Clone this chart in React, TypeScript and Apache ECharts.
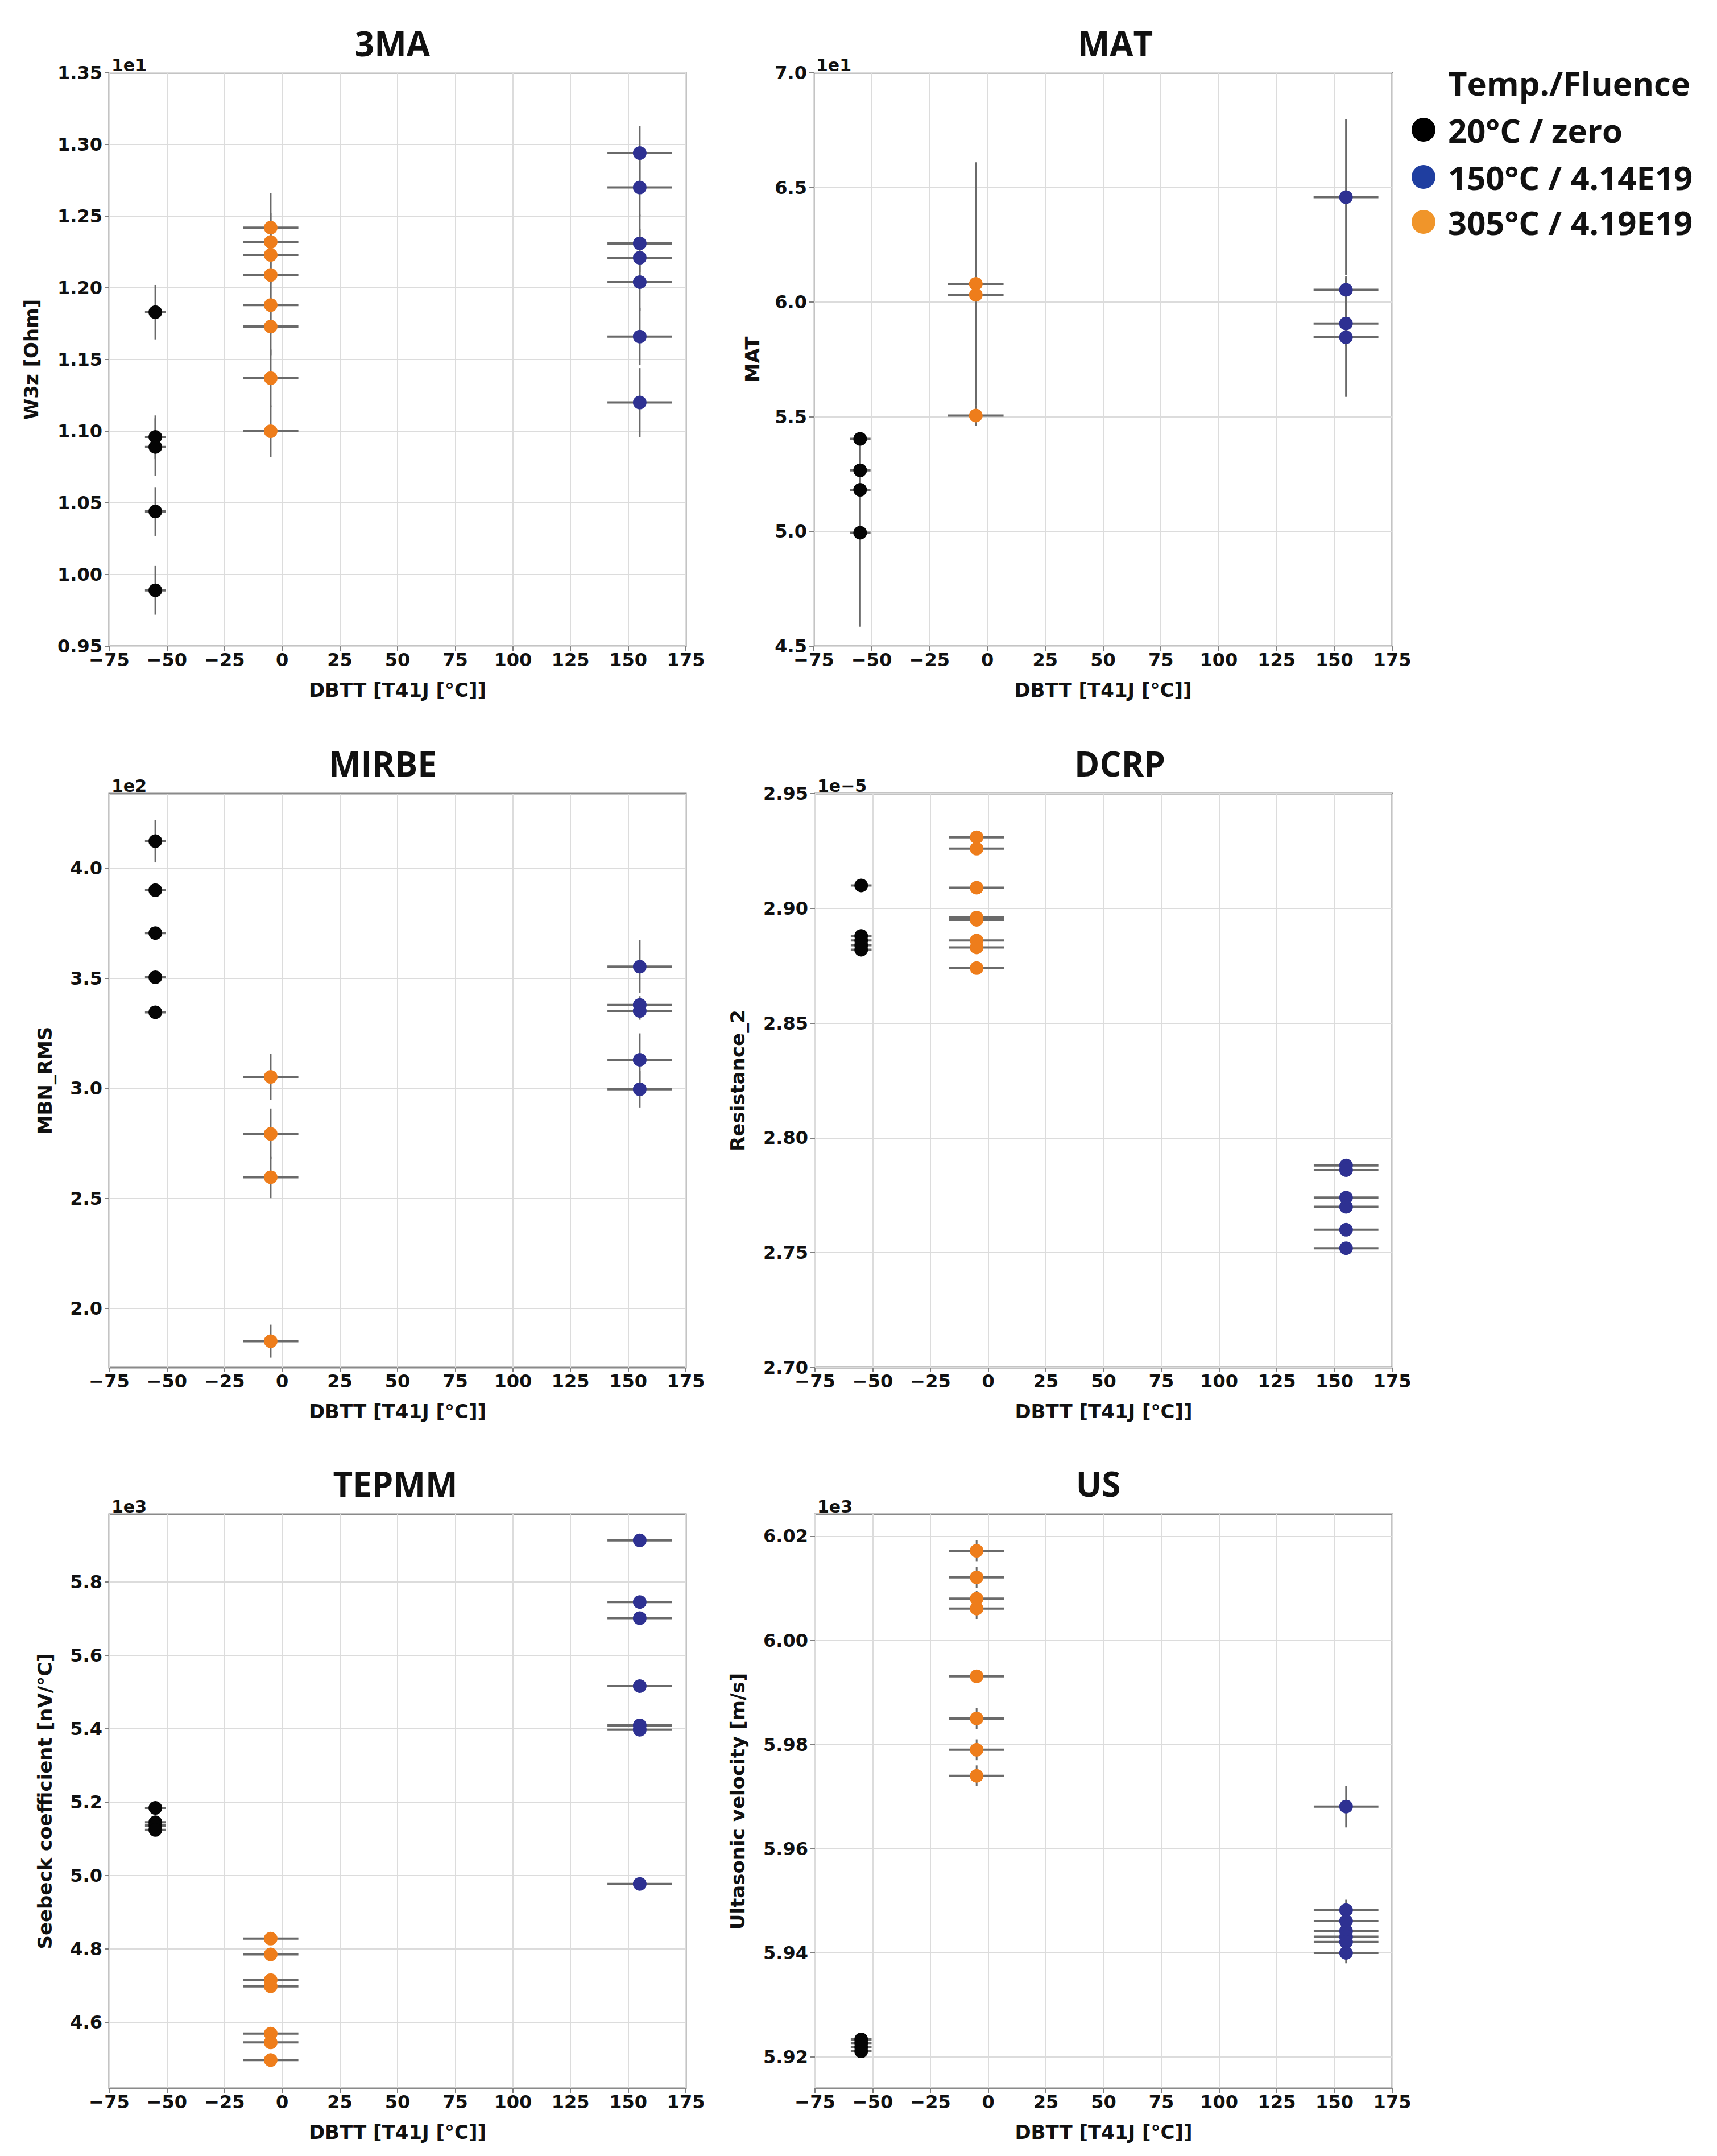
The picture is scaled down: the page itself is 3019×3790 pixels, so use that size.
import React, { useEffect, useRef } from 'react';
import * as echarts from 'echarts';

// groups (legend order): 20°C / zero, 150°C / 4.14E19, 305°C / 4.19E19
const groupNames = ['20°C / zero', '150°C / 4.14E19', '305°C / 4.19E19'];
const groupDbtt = [-55, 155, -5];
const groupDbttErr = [4.5, 14, 12];
const groupColors = ['#050505', '#2e3192', '#ee7d1b'];
const legendColors = ['#000000', '#1f3ea0', '#f0952a'];

const xTicks = [-75, 175, 25]; // min, max, step

// 3MA  (W3z, x1e1 Ohm)
const w3zBlack = [1.183, 1.096, 1.089, 1.044, 0.989];
const w3zBlackErr = [0.019, 0.015, 0.02, 0.017, 0.017];
const w3zBlue = [1.294, 1.27, 1.231, 1.221, 1.204, 1.166, 1.12];
const w3zBlueErr = [0.019, 0.02, 0.02, 0.02, 0.02, 0.02, 0.024];
const w3zOrange = [1.242, 1.232, 1.223, 1.209, 1.188, 1.173, 1.137, 1.1];
const w3zOrangeErr = [0.024, 0.02, 0.02, 0.02, 0.02, 0.02, 0.02, 0.018];

// MAT (x1e1)
const matBlack = [5.404, 5.267, 5.182, 4.995];
const matBlackErr = [0.03, 0.03, 0.03, 0.41];
const matBlue = [6.458, 6.054, 5.907, 5.847];
const matBlueErr = [0.34, 0.06, 0.1, 0.26];
const matOrange = [6.08, 6.032, 5.506];
const matOrangeErr = [0.53, 0.05, 0.045];

// MIRBE (MBN_RMS, x1e2)
const mbnBlack = [4.124, 3.901, 3.706, 3.505, 3.346];
const mbnBlackErr = [0.097, 0.01, 0.01, 0.01, 0.01];
const mbnBlue = [3.553, 3.379, 3.352, 3.13, 2.996];
const mbnBlueErr = [0.12, 0.04, 0.04, 0.12, 0.083];
const mbnOrange = [3.052, 2.793, 2.596, 1.851];
const mbnOrangeErr = [0.104, 0.115, 0.095, 0.075];
const mbnTicks = [2.0, 2.5, 3.0, 3.5, 4.0];

// DCRP (Resistance_2, x1e-5)
const resBlack = [2.91, 2.888, 2.886, 2.884, 2.882];
const resBlackErr = [0.0005, 0.0005, 0.0005, 0.0005, 0.0005];
const resBlue = [2.788, 2.786, 2.774, 2.77, 2.76, 2.752];
const resBlueErr = [0.0005, 0.0005, 0.0005, 0.0005, 0.0005, 0.0005];
const resOrange = [2.931, 2.926, 2.909, 2.896, 2.895, 2.886, 2.883, 2.874];
const resOrangeErr = [0.0005, 0.0005, 0.0005, 0.0005, 0.0005, 0.0005, 0.0005, 0.0005];

// TEPMM (Seebeck coefficient, x1e3 nV/°C)
const seeBlack = [5.184, 5.145, 5.136, 5.124];
const seeBlackErr = [0.004, 0.004, 0.004, 0.004];
const seeBlue = [5.913, 5.745, 5.701, 5.516, 5.409, 5.397, 4.977];
const seeBlueErr = [0.004, 0.004, 0.004, 0.004, 0.004, 0.004, 0.004];
const seeOrange = [4.828, 4.785, 4.715, 4.698, 4.569, 4.545, 4.497];
const seeOrangeErr = [0.004, 0.004, 0.004, 0.004, 0.004, 0.004, 0.004];
const seeTicks = [4.6, 4.8, 5.0, 5.2, 5.4, 5.6, 5.8];

// US (ultrasonic velocity, x1e3 m/s)
const usBlack = [5.9234, 5.9227, 5.9219, 5.9211];
const usBlackErr = [0.001, 0.001, 0.001, 0.001];
const usBlue = [5.9681, 5.9482, 5.9461, 5.9442, 5.9431, 5.9421, 5.94];
const usBlueErr = [0.004, 0.002, 0.002, 0.002, 0.002, 0.002, 0.002];
const usOrange = [6.0172, 6.0121, 6.008, 6.0061, 5.9931, 5.985, 5.979, 5.974];
const usOrangeErr = [0.002, 0.002, 0.0015, 0.002, 0.001, 0.002, 0.002, 0.002];
const usTicks = [5.92, 5.94, 5.96, 5.98, 6.0, 6.02];

type Panel = {
  title: string;
  yName: string;
  offset: string;
  yMin: number;
  yMax: number;
  yInterval?: number;
  yTicks?: number[];
  digits: number;
  nameGap: number;
  box: [number, number, number, number];
  titleX: number;
  titleY: number;
  groups: [number[], number[]][];
};

const panels: Panel[] = [
  {
    title: '3MA', yName: 'W3z [Ohm]', offset: '1e1', yMin: 0.95, yMax: 1.35, yInterval: 0.05, digits: 2,
    nameGap: 120, box: [192, 128, 1014, 1008], titleX: 690, titleY: 76,
    groups: [[w3zBlack, w3zBlackErr], [w3zBlue, w3zBlueErr], [w3zOrange, w3zOrangeErr]],
  },
  {
    title: 'MAT', yName: 'MAT', offset: '1e1', yMin: 4.5, yMax: 7.0, yInterval: 0.5, digits: 1,
    nameGap: 91, box: [1431, 128, 1017, 1008], titleX: 1961, titleY: 76,
    groups: [[matBlack, matBlackErr], [matBlue, matBlueErr], [matOrange, matOrangeErr]],
  },
  {
    title: 'MIRBE', yName: 'MBN_RMS', offset: '1e2', yMin: 1.731, yMax: 4.34, yTicks: mbnTicks, digits: 1,
    nameGap: 96, box: [192, 1395, 1014, 1009], titleX: 673, titleY: 1342,
    groups: [[mbnBlack, mbnBlackErr], [mbnBlue, mbnBlueErr], [mbnOrange, mbnOrangeErr]],
  },
  {
    title: 'DCRP', yName: 'Resistance_2', offset: '1e\u22125', yMin: 2.7, yMax: 2.95, yInterval: 0.05, digits: 2,
    nameGap: 119, box: [1433, 1395, 1015, 1009], titleX: 1969, titleY: 1342,
    groups: [[resBlack, resBlackErr], [resBlue, resBlueErr], [resOrange, resOrangeErr]],
  },
  {
    title: 'TEPMM', yName: 'Seebeck coefficient [nV/°C]', offset: '1e3', yMin: 4.42, yMax: 5.984, yTicks: seeTicks, digits: 1,
    nameGap: 96, box: [192, 2662, 1014, 1009], titleX: 695, titleY: 2608,
    groups: [[seeBlack, seeBlackErr], [seeBlue, seeBlueErr], [seeOrange, seeOrangeErr]],
  },
  {
    title: 'US', yName: 'Ultasonic velocity [m/s]', offset: '1e3', yMin: 5.914, yMax: 6.0242, yTicks: usTicks, digits: 2,
    nameGap: 119, box: [1433, 2662, 1015, 1009], titleX: 1931, titleY: 2608,
    groups: [[usBlack, usBlackErr], [usBlue, usBlueErr], [usOrange, usOrangeErr]],
  },
];

const tickFont = { fontFamily: 'DejaVu Sans', fontWeight: 'bold' as const, fontSize: 32, color: '#111' };
const nameFont = { fontFamily: 'DejaVu Sans', fontWeight: 'bold' as const, fontSize: 34, color: '#111' };
const gridLine = { show: true, lineStyle: { color: '#dcdcdc', width: 2 } };
const tickLine = { show: true, length: 8, lineStyle: { color: '#808080', width: 2 } };

const minus = (v: number, d: number) => (v < 0 ? '\u2212' + Math.abs(v).toFixed(d) : v.toFixed(d));

const errorBars = (params: any, api: any) => {
  const x = api.value(0);
  const y = api.value(1);
  const xe = api.value(2);
  const ye = api.value(3);
  const l = api.coord([x - xe, y]);
  const r = api.coord([x + xe, y]);
  const t = api.coord([x, y + ye]);
  const b = api.coord([x, y - ye]);
  return {
    type: 'group',
    children: [
      { type: 'line', shape: { x1: l[0], y1: l[1], x2: r[0], y2: r[1] }, style: { stroke: '#6a6a6a', lineWidth: 4 } },
      { type: 'line', shape: { x1: t[0], y1: t[1], x2: b[0], y2: b[1] }, style: { stroke: '#6a6a6a', lineWidth: 3 } },
    ],
  };
};

const App: React.FC = () => {
  const chartRef = useRef<HTMLDivElement | null>(null);

  useEffect(() => {
    document.body.style.margin = '0';
    if (!chartRef.current) return;
    const chart = echarts.init(chartRef.current, undefined, { renderer: 'svg' });

    const grid: any[] = [];
    const xAxis: any[] = [];
    const yAxis: any[] = [];
    const series: any[] = [];
    const graphic: any[] = [];

    panels.forEach((p, i) => {
      const [left, top, width, height] = p.box;
      grid.push({ left, top, width, height, show: true, borderColor: '#8a8a8a', borderWidth: 3 });
      xAxis.push({
        gridIndex: i,
        type: 'value',
        min: xTicks[0],
        max: xTicks[1],
        interval: xTicks[2],
        axisLine: { show: false, onZero: false },
        axisTick: tickLine,
        splitLine: gridLine,
        axisLabel: { ...tickFont, margin: 8, formatter: (v: number) => minus(v, 0) },
        name: 'DBTT [T41J [°C]]',
        nameLocation: 'middle',
        nameGap: 60,
        nameTextStyle: nameFont,
      });
      const y: any = {
        gridIndex: i,
        type: 'value',
        min: p.yMin,
        max: p.yMax,
        axisLine: { show: false, onZero: false },
        axisTick: { ...tickLine },
        splitLine: gridLine,
        axisLabel: { ...tickFont, margin: 12, formatter: (v: number) => minus(v, p.digits) },
        name: p.yName,
        nameLocation: 'middle',
        nameGap: p.nameGap,
        nameTextStyle: nameFont,
      };
      if (p.yInterval) {
        y.interval = p.yInterval;
      } else if (p.yTicks) {
        y.axisTick.customValues = p.yTicks;
        y.axisLabel.customValues = p.yTicks;
      }
      yAxis.push(y);

      p.groups.forEach(([vals, errs], g) => {
        const rows = vals.map((v, k) => [groupDbtt[g], v, groupDbttErr[g], errs[k]]);
        series.push({
          type: 'custom',
          name: groupNames[g],
          xAxisIndex: i,
          yAxisIndex: i,
          renderItem: errorBars,
          encode: { x: 0, y: 1 },
          data: rows,
          z: 2,
        });
      });
      p.groups.forEach(([vals], g) => {
        series.push({
          type: 'scatter',
          name: groupNames[g],
          xAxisIndex: i,
          yAxisIndex: i,
          symbolSize: 24,
          itemStyle: { color: groupColors[g], opacity: 1 },
          data: vals.map((v) => [groupDbtt[g], v]),
          z: 3,
        });
      });

      graphic.push({
        type: 'text',
        x: p.titleX,
        y: p.titleY,
        style: { text: p.title, fontFamily: 'Open Sans', fontWeight: 'bold', fontSize: 60, fill: '#111', align: 'center', verticalAlign: 'middle' },
      });
      graphic.push({
        type: 'text',
        x: left + 4,
        y: top - 14,
        style: { text: p.offset, fontFamily: 'DejaVu Sans', fontWeight: 'bold', fontSize: 30, fill: '#111', align: 'left', verticalAlign: 'middle' },
      });
    });

    // legend drawn at the right of the MAT panel
    graphic.push({
      type: 'text',
      x: 2546,
      y: 145,
      style: { text: 'Temp./Fluence', fontFamily: 'Open Sans', fontWeight: 'bold', fontSize: 58, fill: '#111', align: 'left', verticalAlign: 'middle' },
    });
    const legendY = [228, 311, 390];
    groupNames.forEach((n, g) => {
      graphic.push({ type: 'circle', shape: { cx: 2503, cy: legendY[g], r: 21 }, style: { fill: legendColors[g] } });
      graphic.push({
        type: 'text',
        x: 2546,
        y: legendY[g],
        style: { text: n, fontFamily: 'Open Sans', fontWeight: 'bold', fontSize: 58, fill: '#111', align: 'left', verticalAlign: 'middle' },
      });
    });

    chart.setOption({
      animation: false,
      backgroundColor: '#ffffff',
      grid,
      xAxis,
      yAxis,
      series,
      graphic,
    });

    return () => {
      chart.dispose();
    };
  }, []);

  return <div ref={chartRef} style={{ width: '3019px', height: '3790px' }} />;
};

export default App;
